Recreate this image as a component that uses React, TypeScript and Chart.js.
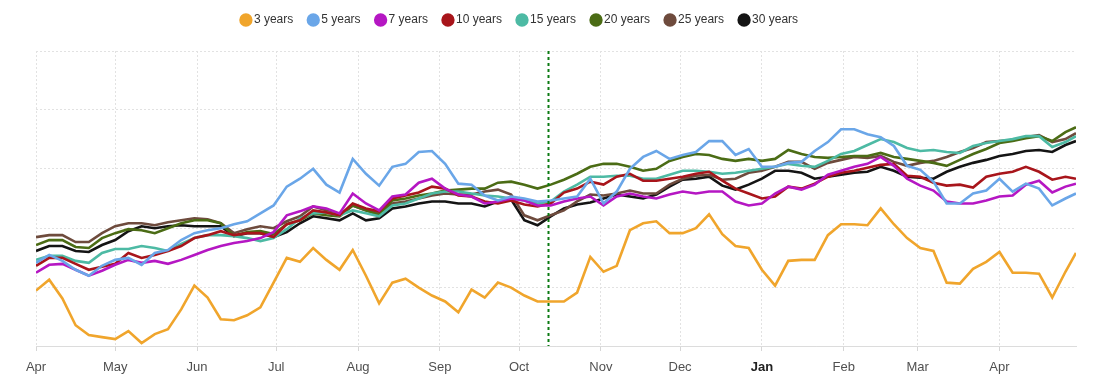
import React, { useEffect, useRef } from 'react';
import { Chart, registerables } from 'chart.js';

Chart.register(...registerables);

// Day offsets from 1 April (x positions of the samples)
const days = [
  0, 5, 10, 15, 20, 25, 30, 35, 40, 45, 50, 55, 60, 65, 70, 75, 80, 85, 90, 95,
  100, 105, 110, 115, 120, 125, 130, 135, 140, 145, 150, 155, 160, 165, 170, 175, 180, 185, 190, 195,
  200, 205, 210, 215, 220, 225, 230, 235, 240, 245, 250, 255, 260, 265, 270, 275, 280, 285, 290,
  295, 300, 305, 310, 315, 320, 325, 330, 335, 340, 345, 350, 355, 360, 365, 370, 375, 380, 385, 390, 394,
];

const monthTickDays = [0, 30, 61, 91, 122, 153, 183, 214, 244, 275, 306, 334, 365];
const monthLabels = ['Apr', 'May', 'Jun', 'Jul', 'Aug', 'Sep', 'Oct', 'Nov', 'Dec', 'Jan', 'Feb', 'Mar', 'Apr'];
const boldMonth = 'Jan';
const xMax = 394;
const yMax = 298;
const yGridValues = [0, 59.6, 119.2, 178.8, 238.4, 298];
const markerDay = 194;

const seriesNames = ['3 years', '5 years', '7 years', '10 years', '15 years', '20 years', '25 years', '30 years'];
const seriesColors = ['#F0A52C', '#6AA6E8', '#B517C3', '#A8151B', '#4DBAA4', '#4B6C15', '#6E4B3D', '#141414'];

const y3 = [
  56, 67, 48, 21, 11, 9, 7, 15, 3, 12, 17, 37, 61, 49, 27, 26, 31, 39, 64, 89,
  85, 99, 87, 77, 97, 71, 43, 64, 68, 59, 51, 45, 34, 57, 49, 64, 59, 51, 45, 45,
  45, 54, 90, 75, 81, 117, 124, 126, 114, 114, 119, 133, 113, 101, 99, 77, 61, 86, 87,
  87, 112, 123, 123, 122, 139, 123, 109, 99, 96, 64, 63, 78, 85, 95, 74, 74, 73, 49, 75, 94,
];
const y5 = [
  84, 92, 86, 77, 71, 81, 87, 89, 82, 94, 97, 107, 114, 117, 119, 123, 126, 134, 142, 161,
  169, 179, 163, 155, 189, 174, 162, 181, 184, 196, 197, 184, 164, 163, 152, 147, 151, 149, 146, 147,
  149, 151, 169, 144, 156, 179, 191, 197, 189, 193, 196, 207, 207, 193, 199, 181, 181, 185, 186,
  197, 206, 219, 219, 214, 211, 202, 182, 178, 166, 144, 144, 154, 157, 169, 156, 164, 159, 142, 149, 154,
];
const y7 = [
  74, 82, 83, 77, 71, 76, 82, 87, 84, 86, 83, 87, 92, 97, 101, 104, 106, 109, 115, 132,
  136, 141, 139, 134, 154, 144, 137, 151, 153, 165, 169, 159, 153, 151, 144, 146, 149, 147, 142, 142,
  146, 149, 151, 142, 151, 154, 151, 149, 153, 156, 154, 156, 156, 146, 142, 144, 154, 161, 158,
  163, 173, 177, 181, 184, 191, 182, 169, 162, 157, 146, 144, 144, 147, 151, 152, 163, 167, 155, 161, 164,
];
const y10 = [
  81, 89, 89, 83, 77, 80, 83, 94, 89, 92, 96, 101, 109, 112, 116, 112, 114, 114, 110, 123,
  127, 137, 135, 132, 144, 139, 136, 149, 152, 155, 161, 159, 152, 151, 146, 144, 147, 143, 141, 144,
  155, 159, 166, 163, 171, 174, 167, 167, 169, 171, 174, 176, 167, 159, 154, 149, 151, 161, 159,
  164, 171, 175, 177, 180, 183, 184, 172, 171, 165, 162, 163, 160, 171, 174, 176, 181, 176, 168, 171, 169,
];
const y15 = [
  87, 91, 91, 86, 84, 94, 98, 98, 101, 99, 96, 103, 109, 112, 112, 111, 109, 106, 109, 118,
  129, 134, 135, 132, 137, 134, 131, 142, 144, 149, 154, 156, 156, 154, 152, 151, 149, 147, 144, 146,
  156, 163, 171, 171, 172, 172, 169, 169, 173, 177, 177, 176, 174, 175, 177, 179, 181, 184, 182,
  181, 187, 194, 197, 203, 209, 206, 200, 197, 198, 196, 195, 202, 205, 207, 209, 212, 212, 201, 206, 212,
];
const y20 = [
  102, 107, 107, 100, 99, 109, 114, 118, 117, 114, 119, 124, 127, 127, 124, 111, 115, 116, 113, 123,
  127, 134, 132, 131, 142, 137, 132, 147, 149, 152, 154, 157, 158, 159, 159, 165, 166, 163, 159, 163,
  168, 174, 181, 184, 184, 181, 177, 179, 187, 191, 194, 193, 189, 187, 189, 187, 189, 198, 194,
  191, 190, 191, 192, 192, 195, 191, 189, 187, 185, 182, 188, 194, 199, 205, 207, 210, 212, 207, 216, 221,
];
const y25 = [
  110, 112, 112, 105, 105, 114, 121, 124, 124, 122, 125, 127, 129, 128, 124, 114, 118, 121, 119, 126,
  131, 141, 137, 132, 142, 137, 134, 144, 146, 149, 152, 154, 153, 153, 156, 158, 153, 132, 127, 132,
  137, 146, 153, 152, 154, 157, 154, 154, 163, 169, 172, 173, 168, 169, 175, 177, 181, 186, 186,
  179, 185, 188, 191, 190, 192, 186, 182, 185, 187, 191, 196, 200, 206, 207, 208, 211, 213, 206, 209, 215,
];
const y30 = [
  96, 101, 101, 96, 95, 102, 107, 116, 121, 119, 121, 122, 121, 121, 121, 111, 114, 114, 110, 115,
  124, 131, 129, 127, 134, 127, 129, 139, 141, 144, 146, 146, 144, 144, 141, 146, 148, 127, 122, 131,
  139, 143, 145, 149, 153, 151, 149, 153, 161, 168, 169, 171, 162, 158, 163, 169, 177, 177, 175,
  169, 171, 173, 175, 176, 181, 177, 171, 170, 169, 176, 181, 185, 188, 192, 194, 197, 198, 196, 203, 207,
];

const seriesValues = [y3, y5, y7, y10, y15, y20, y25, y30];

const FONT = 'Arial, "Liberation Sans", sans-serif';

const markerLine = {
  id: 'markerLine',
  afterDatasetsDraw(chart: any) {
    const { ctx, chartArea, scales } = chart;
    const x = Math.round(scales.x.getPixelForValue(markerDay)) + 0.5;
    ctx.save();
    ctx.strokeStyle = '#0B7A12';
    ctx.lineWidth = 2;
    ctx.setLineDash([3, 3]);
    ctx.beginPath();
    ctx.moveTo(x, chartArea.top);
    ctx.lineTo(x, chartArea.bottom);
    ctx.stroke();
    ctx.restore();
  },
};

const legendSpacing = {
  id: 'legendSpacing',
  beforeInit(chart: any) {
    const legend = chart.legend;
    if (!legend) return;
    const origFit = legend.fit;
    legend.fit = function () {
      origFit.call(this);
      this.height += 12;
    };
  },
  afterLayout(chart: any) {
    const legend = chart.legend;
    if (!legend) return;
    legend.left -= 35;
    legend.right -= 35;
    legend.top -= 3;
    legend.bottom -= 3;
  },
};

export default function App() {
  const canvasRef = useRef<HTMLCanvasElement | null>(null);

  useEffect(() => {
    if (!canvasRef.current) return;
    const datasets = seriesNames.map((name, i) => ({
      label: name,
      data: days.map((d, j) => ({ x: d, y: seriesValues[i][j] })),
      borderColor: seriesColors[i],
      backgroundColor: seriesColors[i],
      borderWidth: 2.6,
      pointRadius: 0,
      tension: 0,
      fill: false,
    }));

    const chart = new Chart(canvasRef.current, {
      type: 'line',
      data: { datasets },
      plugins: [markerLine, legendSpacing],
      options: {
        animation: false,
        responsive: true,
        maintainAspectRatio: false,
        layout: { padding: { left: 28, right: 12, top: 0, bottom: -4 } },
        plugins: {
          legend: {
            position: 'top',
            labels: {
              usePointStyle: true,
              pointStyle: 'circle',
              boxWidth: 4,
              boxHeight: 7.6,
              padding: 18,
              color: '#333',
              font: { size: 12, family: FONT },
            },
          },
          tooltip: { enabled: false },
        },
        scales: {
          x: {
            type: 'linear',
            min: 0,
            max: xMax,
            afterBuildTicks: (scale: any) => {
              scale.ticks = monthTickDays.map((v) => ({ value: v }));
            },
            ticks: {
              autoSkip: false,
              maxRotation: 0,
              padding: 9.5,
              callback: (value: any) => {
                const k = monthTickDays.indexOf(Number(value));
                return k >= 0 ? monthLabels[k] : '';
              },
              color: (ctx: any) => (monthLabels[ctx.index] === boldMonth ? '#222' : '#505050'),
              font: (ctx: any) => ({
                size: 13,
                family: FONT,
                lineHeight: 1,
                weight: monthLabels[ctx.index] === boldMonth ? 'bold' : 'normal',
              }),
            },
            grid: { color: '#e2e2e2', tickColor: '#d6d6d6', tickLength: 5, lineWidth: 1 },
            border: { display: true, color: '#dcdcdc', dash: [2, 2] },
          },
          y: {
            min: 0,
            max: yMax,
            afterBuildTicks: (scale: any) => {
              scale.ticks = yGridValues.map((v) => ({ value: v }));
            },
            ticks: { display: false },
            grid: { color: '#e2e2e2', drawTicks: false, lineWidth: 1 },
            border: { display: false, dash: [2, 2] },
          },
        },
      },
    } as any);
    return () => chart.destroy();
  }, []);

  return (
    <div style={{ position: 'relative', width: '100%', height: 380, marginTop: -9 }}>
      <canvas ref={canvasRef} />
    </div>
  );
}
